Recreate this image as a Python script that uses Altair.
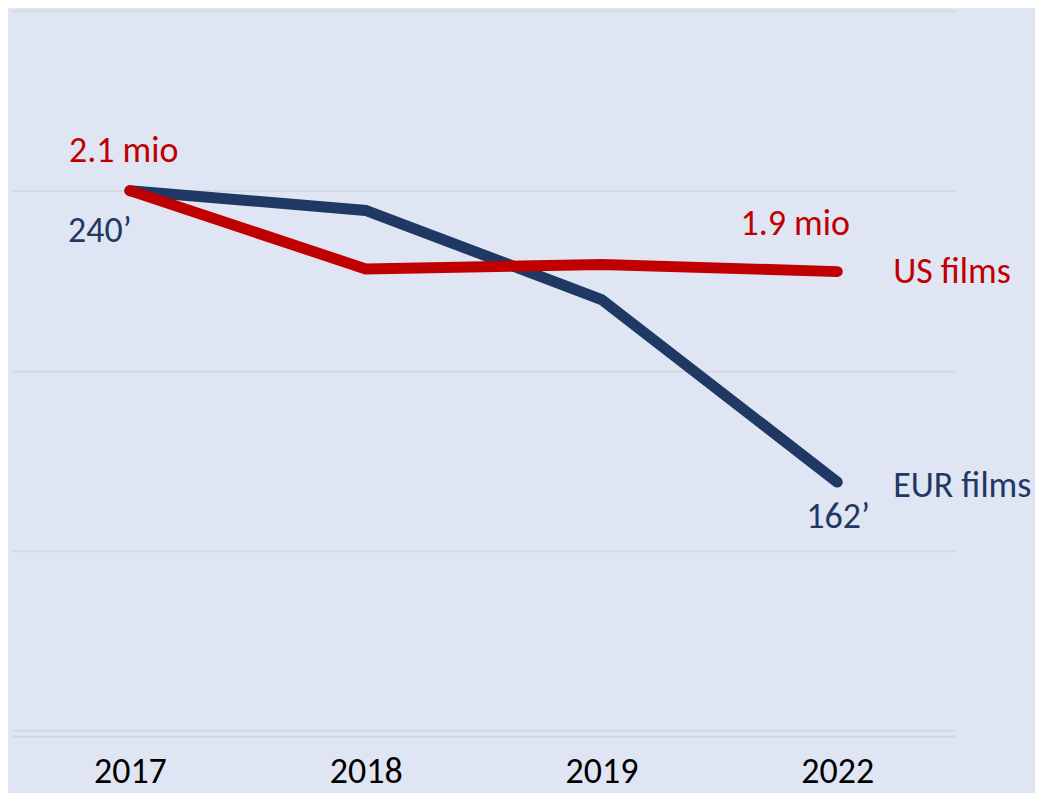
import altair as alt
import pandas as pd

years = ["2017", "2018", "2019", "2022"]
series_names = ["EUR films", "US films"]
eur_index = [100, 97.8, 87.9, 67.6]   # index, 2017 = 100 (240' -> 162')
us_index = [100, 91.3, 91.8, 91.0]    # index, 2017 = 100 (2.1 mio -> 1.9 mio)
start_labels = {"EUR films": "240\u2019", "US films": "2.1 mio"}
end_labels = {"EUR films": "162\u2019", "US films": "1.9 mio"}
grid_values = [40, 60, 80, 100, 120]

NAVY = "#1F3864"
RED = "#C00000"
FONT = "Carlito, Lato"
FS = 36

rows = []
for s, vals in zip(series_names, [eur_index, us_index]):
    for y, v in zip(years, vals):
        rows.append({"series": s, "year": y, "value": v})
df = pd.DataFrame(rows)

x_enc = alt.X(
    "year:O",
    sort=years,
    scale=alt.Scale(type="point", padding=0.5),
    axis=alt.Axis(
        title=None, labelAngle=0, ticks=False, grid=False,
        labelFont=FONT, labelFontSize=FS, labelColor="#000000",
        labelPadding=18, offset=6,
        domainColor="#D3D6DE", domainWidth=2,
    ),
)
y_enc = alt.Y(
    "value:Q",
    scale=alt.Scale(domain=[40, 120], nice=False, zero=False),
    axis=alt.Axis(
        title=None, labels=False, ticks=False, domain=False,
        grid=True, gridColor="#D6D9E0", gridWidth=2, values=grid_values,
    ),
)

base = alt.Chart(df)

lines = base.mark_line(strokeWidth=11, strokeCap="round").encode(
    x=x_enc,
    y=y_enc,
    color=alt.Color("series:N", scale=alt.Scale(domain=series_names, range=[NAVY, RED]), legend=None),
)


def label(series, year, text, color, dx, dy):
    return (
        base.transform_filter((alt.datum.series == series) & (alt.datum.year == year))
        .mark_text(align="left", baseline="alphabetic", dx=dx, dy=dy,
                   font=FONT, fontSize=FS, color=color)
        .encode(x=alt.X("year:O", sort=years), y="value:Q", text=alt.value(text))
    )


layers = [
    lines,
    label("US films", years[0], start_labels["US films"], RED, -61, -29),
    label("EUR films", years[0], start_labels["EUR films"], NAVY, -62, 51),
    label("US films", years[-1], end_labels["US films"], RED, -97, -37),
    label("US films", years[-1], "US films", RED, 56, 11),
    label("EUR films", years[-1], "EUR films", NAVY, 56, 15),
    label("EUR films", years[-1], end_labels["EUR films"], NAVY, -31, 46),
]

chart = (
    alt.layer(*layers)
    .properties(
        width=945, height=721,
        autosize=alt.AutoSizeParams(type="none"),
        padding={"left": 4, "top": 2, "right": 80, "bottom": 62},
        background="#DFE5F3",
    )
    .configure_view(strokeWidth=0)
)

chart.save("out.html", embed_options={"renderer": "svg", "actions": False})
